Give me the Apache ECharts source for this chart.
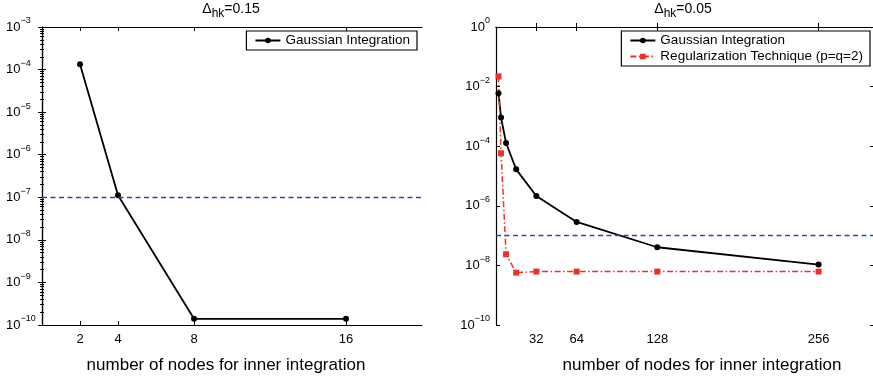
<!DOCTYPE html>
<html>
<head>
<meta charset="utf-8">
<script src="https://cdn.jsdelivr.net/npm/echarts@6/dist/echarts.min.js"></script>
<style>
  html, body { margin: 0; padding: 0; background: #fff; }
  #main { width: 873px; height: 377px; }
</style>
</head>
<body>
<div id="main"></div>
<script>
// left panel, Delta_hk = 0.15
const leftNodes = [2, 4, 8, 16];
const leftGauss = [1.33e-4, 1.12e-7, 1.4e-10, 1.4e-10];
const leftTicks = [2, 4, 8, 16];

// right panel, Delta_hk = 0.05
const rightNodes = [2, 4, 8, 16, 32, 64, 128, 256];
const rightGauss = [6.0e-3, 9.1e-4, 1.28e-4, 1.67e-5, 2.13e-6, 2.87e-7, 4.06e-8, 1.07e-8];
const rightReg = [2.2e-2, 5.8e-5, 2.36e-8, 5.7e-9, 6.2e-9, 6.2e-9, 6.2e-9, 6.2e-9];
const rightTicks = [32, 64, 128, 256];

const tolerance = 1e-7;
const xName = 'number of nodes for inner integration';
const gaussName = 'Gaussian Integration';
const regName = 'Regularization Technique (p=q=2)';

const FONT = '"Liberation Sans", Arial, Helvetica, sans-serif';

function zip(xs, ys) {
    return xs.map((x, i) => [x, ys[i]]);
}

// 10^n label with raised exponent
const powRich = {
    b: { fontSize: 13, lineHeight: 14, color: '#000', fontFamily: FONT },
    s: { fontSize: 9, lineHeight: 9, padding: [0, 0, 12, 0], color: '#000', fontFamily: FONT }
};
function powLabel(exp) {
    const e = exp < 0 ? '\u2212' + (-exp) : String(exp);
    return '{b|10}{s|' + e + '}';
}

const titleRich = {
    d: { fontSize: 14, fontWeight: 'normal', color: '#000', fontFamily: FONT },
    sub: { fontSize: 12, fontWeight: 'normal', color: '#000', fontFamily: FONT, padding: [10, 0, 0, 0] }
};

// precision must be high, default rounds 1e-7 to 0
function tolLine() {
    return {
        silent: true,
        symbol: ['none', 'none'],
        precision: 15,
        label: { show: false },
        lineStyle: { color: '#2a44b5', type: [5, 3.5], width: 1.4 },
        data: [{ yAxis: tolerance }]
    };
}

const axisLine = { show: true, lineStyle: { color: '#000', width: 1.2 } };

const legendBase = {
    orient: 'vertical', top: 31,
    backgroundColor: '#fff', borderColor: '#000', borderWidth: 1.2,
    padding: [2, 7, 2, 8], itemWidth: 25, itemHeight: 7, itemGap: 1,
    textStyle: { fontSize: 13.5, color: '#000', fontFamily: FONT, lineHeight: 15 }
};

const chart = echarts.init(document.getElementById('main'));
chart.setOption({
    animation: false,
    backgroundColor: '#fff',
    textStyle: { fontFamily: FONT },
    title: [
        { text: '{d|\u0394}{sub|hk}{d|=0.15}', left: 231, top: -2, textAlign: 'center', padding: 0,
          textStyle: { fontWeight: 'normal', rich: titleRich } },
        { text: '{d|\u0394}{sub|hk}{d|=0.05}', left: 683, top: -2, textAlign: 'center', padding: 0,
          textStyle: { fontWeight: 'normal', rich: titleRich } }
    ],
    legend: [
        Object.assign({}, legendBase, { data: [gaussName], right: 456 }),
        Object.assign({}, legendBase, { data: [gaussName, regName], right: 3 })
    ],
    grid: [
        { left: 42, right: 451, top: 27, bottom: 52, outerBoundsMode: 'none', containLabel: false },
        { left: 496, right: -1, top: 27, bottom: 52, outerBoundsMode: 'none', containLabel: false }
    ],
    xAxis: [
        {
            gridIndex: 0, type: 'value', position: 'bottom', min: 0, max: 20,
            axisLine: axisLine,
            axisTick: { inside: true, length: 4, customValues: leftTicks, lineStyle: { color: '#000' } },
            axisLabel: { customValues: leftTicks, fontSize: 13, margin: 8, color: '#000', fontFamily: FONT },
            splitLine: { show: false },
            name: xName, nameLocation: 'middle', nameGap: 32,
            nameTextStyle: { fontSize: 17, color: '#000', fontFamily: FONT, padding: [0, 12, 0, 0] }
        },
        {
            gridIndex: 0, type: 'value', position: 'top', min: 0, max: 20,
            axisLine: axisLine,
            axisTick: { inside: true, length: 4, customValues: leftTicks, lineStyle: { color: '#000' } },
            axisLabel: { show: false },
            splitLine: { show: false }
        },
        {
            gridIndex: 1, type: 'value', position: 'bottom', min: 0, max: 300,
            axisLine: axisLine,
            axisTick: { inside: true, length: 4, customValues: rightTicks, lineStyle: { color: '#000' } },
            axisLabel: { customValues: rightTicks, fontSize: 13, margin: 8, color: '#000', fontFamily: FONT },
            splitLine: { show: false },
            name: xName, nameLocation: 'middle', nameGap: 32,
            nameTextStyle: { fontSize: 17, color: '#000', fontFamily: FONT, padding: [0, 0, 0, 34] }
        },
        {
            gridIndex: 1, type: 'value', position: 'top', min: 0, max: 300,
            axisLine: axisLine,
            axisTick: { inside: true, length: 4, customValues: rightTicks, lineStyle: { color: '#000' } },
            axisLabel: { show: false },
            splitLine: { show: false }
        }
    ],
    yAxis: [
        {
            gridIndex: 0, type: 'log', logBase: 10, position: 'left', min: 1e-10, max: 1e-3,
            axisLine: axisLine,
            axisTick: { inside: true, length: 4, lineStyle: { color: '#000' } },
            minorTick: { show: true, splitNumber: 9, length: 2, lineStyle: { color: '#000' } },
            axisLabel: {
                align: 'left', margin: 36,
                formatter: v => powLabel(Math.round(Math.log10(v))),
                rich: powRich
            },
            splitLine: { show: false }
        },
        {
            gridIndex: 0, type: 'log', logBase: 10, position: 'right', min: 1e-10, max: 1e-3,
            axisLine: axisLine,
            axisTick: { inside: true, length: 4, lineStyle: { color: '#000' } },
            minorTick: { show: true, splitNumber: 9, length: 2, lineStyle: { color: '#000' } },
            axisLabel: { show: false },
            splitLine: { show: false }
        },
        {
            // log scale that places the right panel's marks
            gridIndex: 1, type: 'log', logBase: 10, position: 'left', min: 1e-10, max: 1,
            show: false
        },
        {
            // decade labels every 2 powers for the right panel
            gridIndex: 1, type: 'value', position: 'left', min: -10, max: 0, interval: 2,
            axisLine: axisLine,
            axisTick: { inside: true, length: 4, lineStyle: { color: '#000' } },
            axisLabel: { margin: 6, formatter: v => powLabel(v), rich: powRich },
            splitLine: { show: false }
        },
        {
            gridIndex: 1, type: 'value', position: 'right', min: -10, max: 0, interval: 2,
            axisLine: axisLine,
            axisTick: { inside: true, length: 4, lineStyle: { color: '#000' } },
            axisLabel: { show: false },
            splitLine: { show: false }
        }
    ],
    series: [
        {
            name: gaussName, type: 'line', xAxisIndex: 0, yAxisIndex: 0,
            data: zip(leftNodes, leftGauss),
            symbol: 'circle', symbolSize: 6,
            lineStyle: { color: '#000', width: 1.8 },
            itemStyle: { color: '#000' },
            markLine: tolLine()
        },
        {
            name: gaussName, type: 'line', xAxisIndex: 2, yAxisIndex: 2,
            data: zip(rightNodes, rightGauss),
            symbol: 'circle', symbolSize: 6,
            lineStyle: { color: '#000', width: 1.8 },
            itemStyle: { color: '#000' },
            markLine: tolLine()
        },
        {
            name: regName, type: 'line', xAxisIndex: 2, yAxisIndex: 2,
            data: zip(rightNodes, rightReg),
            symbol: 'rect', symbolSize: 6,
            lineStyle: { color: '#e8332b', width: 1.5, type: [6, 2.5, 1.5, 2.5] },
            itemStyle: { color: '#e8332b' }
        }
    ]
});
</script>
</body>
</html>
